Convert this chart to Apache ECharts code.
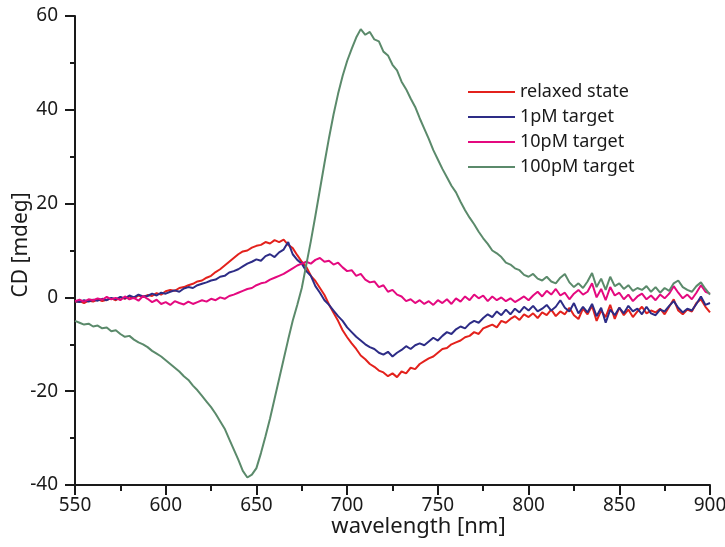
<!DOCTYPE html>
<html>
<head>
<meta charset="utf-8">
<title>CD spectra</title>
<script src="https://cdn.jsdelivr.net/npm/echarts@6/dist/echarts.min.js"></script>
<style>
  html, body { margin: 0; padding: 0; background: #ffffff; }
  #chart { width: 725px; height: 547px; }
</style>
</head>
<body>
<div id="chart"></div>
<script>
// Wavelength grid (nm), 2.5 nm steps
const wavelengths = [
  550, 552.5, 555, 557.5, 560, 562.5, 565, 567.5, 570, 572.5,
  575, 577.5, 580, 582.5, 585, 587.5, 590, 592.5, 595, 597.5,
  600, 602.5, 605, 607.5, 610, 612.5, 615, 617.5, 620, 622.5,
  625, 627.5, 630, 632.5, 635, 637.5, 640, 642.5, 645, 647.5,
  650, 652.5, 655, 657.5, 660, 662.5, 665, 667.5, 670, 672.5,
  675, 677.5, 680, 682.5, 685, 687.5, 690, 692.5, 695, 697.5,
  700, 702.5, 705, 707.5, 710, 712.5, 715, 717.5, 720, 722.5,
  725, 727.5, 730, 732.5, 735, 737.5, 740, 742.5, 745, 747.5,
  750, 752.5, 755, 757.5, 760, 762.5, 765, 767.5, 770, 772.5,
  775, 777.5, 780, 782.5, 785, 787.5, 790, 792.5, 795, 797.5,
  800, 802.5, 805, 807.5, 810, 812.5, 815, 817.5, 820, 822.5,
  825, 827.5, 830, 832.5, 835, 837.5, 840, 842.5, 845, 847.5,
  850, 852.5, 855, 857.5, 860, 862.5, 865, 867.5, 870, 872.5,
  875, 877.5, 880, 882.5, 885, 887.5, 890, 892.5, 895, 897.5,
  900
];

// CD signal (mdeg) for each sample
const relaxedState = [
  -1.0, -0.8, -1.2, -0.7, -0.9, -0.4, -0.8, -0.5, -0.2, -0.6,
  0.0, -0.3, 0.2, -0.2, 0.4, 0.1, 0.5, 0.3, 0.9, 0.6,
  1.3, 1.6, 1.4, 2.0, 2.2, 2.6, 2.9, 3.4, 3.6, 4.2,
  4.6, 5.4, 6.0, 6.8, 7.6, 8.4, 9.2, 9.8, 10.0, 10.6,
  11.0, 11.2, 11.8, 11.5, 12.2, 11.8, 12.3, 11.2, 10.5, 9.0,
  7.6, 6.5, 4.6, 3.5, 2.0, 0.5, -1.5, -3.3, -5.0, -7.0,
  -8.5, -9.8, -11.0, -12.4, -13.2, -14.2, -14.8, -15.6, -16.0, -16.8,
  -16.2, -17.0, -15.8, -16.2, -15.0, -15.3, -14.2, -13.6, -13.0, -12.6,
  -11.8, -11.0, -10.8, -10.0, -9.6, -9.2, -8.5, -8.2, -7.4, -7.8,
  -6.6, -6.2, -5.8, -6.4, -5.0, -5.4, -4.6, -4.0, -4.8, -3.6,
  -4.2, -3.4, -4.4, -3.2, -3.8, -2.6, -4.0, -3.0, -3.6, -2.2,
  -3.8, -4.6, -2.4, -3.6, -1.8, -5.0, -2.8, -4.2, -1.6, -4.6,
  -2.2, -3.8, -2.6, -4.2, -3.0, -2.0, -3.4, -2.8, -3.2, -2.4,
  -3.6, -2.0, -0.4, -2.8, -3.6, -2.6, -3.0, -1.2, -0.4, -2.0,
  -3.2
];

const target1pM = [
  -0.8, -1.0, -0.6, -0.9, -0.5, -0.7, -0.3, -0.6, -0.1, -0.4,
  0.1, -0.2, 0.4, 0.0, 0.6, 0.2, 0.3, 0.8, 0.4, 1.0,
  0.8, 1.2, 1.5, 1.2, 1.9, 2.2, 2.0, 2.6, 2.9, 3.2,
  3.6, 3.8, 4.4, 4.6, 5.3, 5.6, 6.0, 6.6, 7.2, 7.6,
  8.1, 7.8, 8.8, 9.2, 8.6, 9.6, 10.2, 11.8, 9.2, 8.0,
  7.2, 5.6, 4.6, 2.4, 1.0, -0.6, -1.6, -2.8, -4.0, -5.0,
  -6.4, -7.4, -8.4, -9.2, -10.0, -10.6, -11.0, -11.8, -12.2, -11.6,
  -12.6, -11.8, -11.2, -10.4, -11.0, -10.2, -9.8, -10.2, -9.4, -8.6,
  -9.2, -8.2, -7.4, -7.8, -6.8, -6.2, -6.6, -5.6, -5.0, -5.4,
  -4.4, -3.6, -4.2, -3.0, -3.8, -2.6, -3.6, -2.4, -3.2, -2.0,
  -2.8, -1.8, -3.0, -2.4, -1.6, -2.8, -2.0, -0.6, -2.2, -3.0,
  -1.2, -3.4, -2.0, -3.2, -1.4, -4.0, -2.2, -5.4, -2.6, -3.8,
  -2.2, -3.4, -1.8, -3.0, -2.4, -3.6, -2.0, -3.4, -3.8, -2.6,
  -3.0, -1.8, -0.8, -2.2, -3.2, -2.4, -2.8, -1.4, 0.2, -1.6,
  -1.2
];

const target10pM = [
  -0.8, -0.5, -0.9, -0.4, -0.6, -0.2, -0.5, 0.1, -0.4, -0.1,
  -0.6, 0.2, -0.4, -0.1, -0.7, 0.3, -0.3, -1.0, -0.5, -1.4,
  -1.0, -1.6, -0.8, -1.2, -1.5, -0.9, -1.4, -1.0, -0.6, -0.9,
  -0.3, -0.6, 0.0, -0.3, 0.3, 0.6, 1.0, 1.4, 1.8, 2.0,
  2.6, 3.0, 3.2, 3.8, 4.2, 4.6, 5.0, 5.6, 6.2, 6.8,
  7.2, 7.6, 7.2, 8.0, 8.4, 7.6, 7.8, 7.0, 7.4, 6.4,
  5.6, 5.8, 4.6, 5.0, 3.8, 3.2, 3.4, 2.2, 2.6, 1.2,
  1.6, 0.6, 0.2, -0.8, -0.4, -1.2, -0.6, -1.4, -0.8, -1.6,
  -0.6, -1.2, -0.4, -1.4, -0.2, -0.9, 0.2, -0.6, 0.6, -0.2,
  0.4, -0.8, 0.2, -0.6, 0.0, -0.8, -0.2, -1.0, -0.4, 0.2,
  -0.6, 0.4, 1.2, 0.2, 1.4, 0.6, 1.8, 0.4, 1.0, -0.4,
  0.8, 1.6, 0.6, 1.2, 3.0, 0.0, 1.8, -0.6, 2.2, 0.4,
  1.0, -0.4, 0.6, -0.8, 0.2, 0.8, -0.4, 0.4, -0.6, 0.6,
  -0.2, 0.8, 2.4, 1.0, -0.2, 0.6, -0.4, 1.0, 2.6, 1.2,
  0.8
];

const target100pM = [
  -5.0, -5.4, -5.8, -5.6, -6.2, -6.0, -6.6, -6.4, -7.2, -7.0,
  -7.8, -8.4, -8.2, -9.0, -9.6, -10.0, -10.6, -11.4, -12.0, -12.6,
  -13.4, -14.2, -15.0, -15.8, -16.8, -17.6, -18.8, -19.8, -21.0, -22.2,
  -23.4, -24.8, -26.4, -28.0, -30.2, -32.4, -34.6, -37.0, -38.4, -37.8,
  -36.4, -33.2, -29.6, -25.8, -21.6, -17.4, -13.2, -9.0, -5.0, -1.6,
  2.0, 7.0, 12.0, 17.4, 23.0, 28.6, 34.0, 39.0, 43.4, 47.2,
  50.4, 53.0, 55.4, 57.2, 56.0, 56.6, 55.0, 54.6, 52.4, 51.6,
  49.6, 48.4, 46.0, 44.4, 42.4, 40.6, 38.2, 36.0, 33.8, 31.4,
  29.4, 27.4, 25.6, 23.8, 22.4, 20.4, 18.6, 17.0, 15.6, 14.0,
  12.6, 11.4, 10.0, 9.4, 8.6, 7.4, 7.0, 6.2, 5.8, 4.8,
  4.4, 5.0, 4.0, 3.6, 4.4, 3.4, 3.0, 4.2, 5.0, 3.2,
  2.2, 3.0, 2.0, 3.4, 5.2, 2.2, 4.0, 1.6, 4.4, 2.4,
  3.0, 1.8, 2.6, 1.4, 2.0, 1.6, 2.4, 1.2, 2.2, 1.0,
  2.0, 1.4, 3.0, 3.6, 2.2, 1.6, 1.2, 2.4, 3.2, 1.8,
  0.6
];

const seriesNames = ['relaxed state', '1pM target', '10pM target', '100pM target'];
const seriesColors = ['#e3211c', '#2d2c86', '#e4097f', '#5b8a6b'];
const seriesValues = [relaxedState, target1pM, target10pM, target100pM];

const xTicks = { min: 550, max: 900, interval: 50 };
const yTicks = { min: -40, max: 60, interval: 20 };

const fontFamily = '"Noto Sans", "Open Sans", sans-serif';
const ink = '#1a1a1a';

const chart = echarts.init(document.getElementById('chart'), null, { renderer: 'canvas' });

chart.setOption({
  animation: false,
  backgroundColor: '#ffffff',
  grid: { left: 75, right: 15, top: 16, bottom: 62, containLabel: false, outerBoundsMode: 'none' },
  legend: {
    orient: 'vertical',
    left: 468,
    top: 83,
    padding: 0,
    itemWidth: 47,
    itemHeight: 2,
    itemGap: 7,
    icon: 'rect',
    textStyle: { fontFamily, fontSize: 18, lineHeight: 18, color: ink },
    data: seriesNames
  },
  xAxis: {
    type: 'value',
    min: xTicks.min,
    max: xTicks.max,
    interval: xTicks.interval,
    name: 'wavelength [nm]',
    nameLocation: 'middle',
    nameGap: 31,
    nameMoveOverlap: false,
    nameTextStyle: { fontFamily, fontSize: 22, color: ink, padding: [0, 0, 0, 52] },
    axisLine: { show: true, onZero: false, lineStyle: { color: ink, width: 2 } },
    axisTick: { show: true, inside: false, length: 10, lineStyle: { color: ink, width: 2 } },
    minorTick: { show: true, splitNumber: 2, length: 6, lineStyle: { color: ink, width: 2 } },
    axisLabel: { fontFamily, fontSize: 19, color: ink, margin: 11 },
    splitLine: { show: false }
  },
  yAxis: {
    type: 'value',
    min: yTicks.min,
    max: yTicks.max,
    interval: yTicks.interval,
    name: 'CD [mdeg]',
    nameLocation: 'middle',
    nameGap: 43,
    nameRotate: 90,
    nameMoveOverlap: false,
    nameTextStyle: { fontFamily, fontSize: 21, color: ink, padding: [0, 0, 0, 11] },
    axisLine: { show: true, onZero: false, lineStyle: { color: ink, width: 2 } },
    axisTick: { show: true, inside: false, length: 10, lineStyle: { color: ink, width: 2 } },
    minorTick: { show: true, splitNumber: 2, length: 5, lineStyle: { color: ink, width: 2 } },
    axisLabel: { fontFamily, fontSize: 19, color: ink, margin: 17 },
    splitLine: { show: false }
  },
  series: seriesNames.map((name, i) => ({
    name,
    type: 'line',
    data: wavelengths.map((w, j) => [w, seriesValues[i][j]]),
    showSymbol: false,
    symbol: 'none',
    lineStyle: { color: seriesColors[i], width: 2 },
    itemStyle: { color: seriesColors[i] },
    z: 2 + i
  }))
});
</script>
</body>
</html>
